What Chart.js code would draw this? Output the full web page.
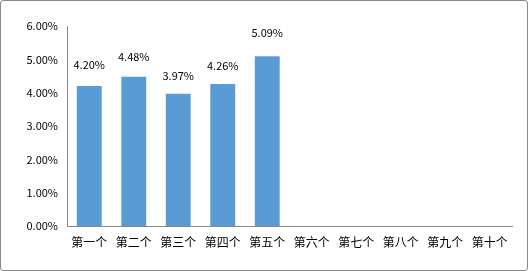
<!DOCTYPE html>
<html><head><meta charset="utf-8">
<script src="https://cdn.jsdelivr.net/npm/chart.js@4/dist/chart.umd.min.js"></script>
<style>
html,body{margin:0;padding:0;background:#fff;}
#wrap{position:relative;width:528px;height:271px;}
#frame{position:absolute;left:0;top:0;width:526px;height:269px;border:1px solid #888;border-radius:3px;pointer-events:none;}
canvas{display:block;}
</style></head>
<body>
<div id="wrap"><canvas id="c" width="528" height="271"></canvas><div id="frame"></div></div>
<script>
const categories = ["第一个","第二个","第三个","第四个","第五个","第六个","第七个","第八个","第九个","第十个"];
const values = [4.20, 4.48, 3.97, 4.26, 5.09, null, null, null, null, null];
const yTicks = [0,1,2,3,4,5,6];

const FONT = '"Noto Sans CJK SC","Noto Sans",sans-serif';
const labelOffsets = [21, 20, 18, 18, 24];

const labelPlugin = {
  id: 'barLabels',
  afterDatasetsDraw(chart) {
    const ctx = chart.ctx;
    const meta = chart.getDatasetMeta(0);
    ctx.save();
    ctx.font = '11px ' + FONT;
    ctx.fillStyle = '#000';
    ctx.textAlign = 'center';
    ctx.textBaseline = 'middle';
    meta.data.forEach((bar, i) => {
      const v = values[i];
      if (v === null || v === undefined) return;
      ctx.fillText(v.toFixed(2) + '%', bar.x, bar.y - (labelOffsets[i] || 20));
    });
    ctx.restore();
  }
};

new Chart(document.getElementById('c'), {
  type: 'bar',
  data: {
    labels: categories,
    datasets: [{
      data: values,
      backgroundColor: '#5B9BD5',
      borderWidth: 0,
      barPercentage: 0.56,
      categoryPercentage: 1.0
    }]
  },
  options: {
    responsive: false,
    animation: false,
    devicePixelRatio: 1,
    layout: { padding: { left: 0, right: 16, top: 26, bottom: 0 } },
    plugins: { legend: { display: false }, tooltip: { enabled: false } },
    scales: {
      x: {
        grid: { display: false, drawTicks: false },
        border: { display: true, color: '#888', width: 1 },
        ticks: { color: '#000', font: { size: 12, family: FONT }, padding: 9, maxRotation: 0, autoSkip: false },
        afterFit(scale) { scale.height = 45; }
      },
      y: {
        min: 0, max: 6,
        afterBuildTicks(scale) { scale.ticks = yTicks.map(v => ({ value: v })); },
        grid: { display: false, drawTicks: false },
        border: { display: true, color: '#888', width: 1 },
        ticks: { color: '#000', font: { size: 11, family: FONT }, padding: 9,
          callback: v => Number(v).toFixed(2) + '%' },
        afterFit(scale) { scale.width = 67; }
      }
    }
  },
  plugins: [labelPlugin]
});
</script>
</body></html>
